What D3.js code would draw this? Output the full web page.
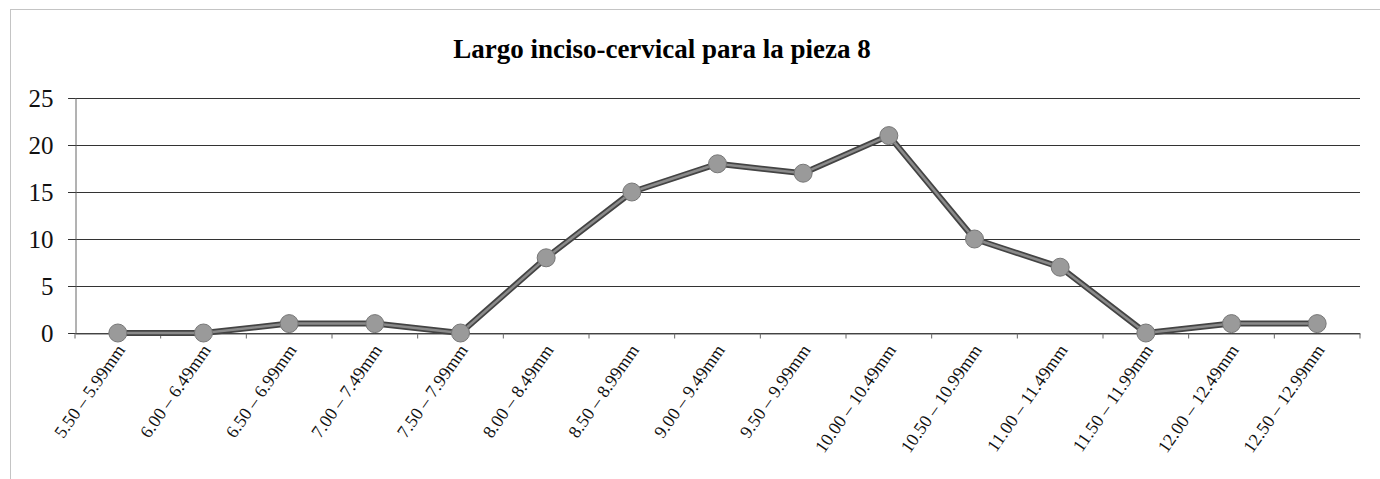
<!DOCTYPE html>
<html><head><meta charset="utf-8">
<script src="https://cdn.jsdelivr.net/npm/d3@7"></script>
<style>body{margin:0;background:#fff}svg{display:block}</style>
</head><body>
<script>
const categories = ["5.50 – 5.99mm","6.00 – 6.49mm","6.50 – 6.99mm","7.00 – 7.49mm","7.50 – 7.99mm","8.00 – 8.49mm","8.50 – 8.99mm","9.00 – 9.49mm","9.50 – 9.99mm","10.00 – 10.49mm","10.50 – 10.99mm","11.00 – 11.49mm","11.50 – 11.99mm","12.00 – 12.49mm","12.50 – 12.99mm"];
const values = [0,0,1,1,0,8,15,18,17,21,10,7,0,1,1];
const yTicks = [0,5,10,15,20,25];
const title = "Largo inciso-cervical para la pieza 8";

const W = 1380, H = 479;
const svg = d3.select("body").append("svg").attr("width", W).attr("height", H);
const serif = "'Liberation Serif','Times New Roman',serif";

// chart border (dotted)
svg.append("rect").attr("x",10.5).attr("y",9.5).attr("width",1400).attr("height",500)
  .attr("fill","none").attr("stroke","#888").attr("stroke-width",1).attr("stroke-dasharray","1,1");

const pL = 75, pR = 1360, pT = 98, pB = 333;
const x = d3.scaleBand().domain(categories).range([pL, pR]);
const y = d3.scaleLinear().domain([0,25]).range([pB, pT]);

svg.append("text").attr("x", 662).attr("y", 58).attr("text-anchor","middle")
  .attr("font-family", serif).attr("font-weight","bold").attr("font-size", 27).text(title);

// gridlines
svg.append("g").selectAll("line").data(yTicks).join("line")
  .attr("x1", pL-7).attr("x2", pR).attr("y1", d=>y(d)+0.5).attr("y2", d=>y(d)+0.5)
  .attr("stroke","#333").attr("stroke-width",1.2);

// y axis
const ya = svg.append("g").attr("transform",`translate(${pL+0.5},0)`)
  .call(d3.axisLeft(y).tickValues(yTicks).tickSize(7).tickPadding(15).tickFormat(d3.format("d")));
ya.select(".domain").attr("stroke","#666");
ya.selectAll(".tick line").attr("stroke","#333");
ya.selectAll("text").attr("font-family", serif).attr("font-size", 25).attr("fill","#111");

// x axis
const xa = svg.append("g").attr("transform",`translate(0,${pB+0.5})`)
  .call(d3.axisBottom(x).tickSize(0).tickFormat(""));
xa.select(".domain").attr("stroke","#555");
xa.selectAll(".boundary").data(d3.range(categories.length+1)).join("line")
  .attr("x1", i=>pL + i*x.step()).attr("x2", i=>pL + i*x.step())
  .attr("y1",0).attr("y2",5).attr("stroke","#666");

svg.append("g").selectAll("text").data(categories).join("text")
  .attr("transform", d=>`translate(${x(d)+x.bandwidth()/2+8},${pB+17}) rotate(-55)`)
  .attr("text-anchor","end").attr("font-family", serif).attr("font-size", 18).attr("fill","#111")
  .text(d=>d);

const cx = d=>x(d)+x.bandwidth()/2;
const line = d3.line().x((d,i)=>cx(categories[i])).y(d=>y(d));
svg.append("path").datum(values).attr("d", line).attr("fill","none")
  .attr("stroke","#444").attr("stroke-width",6).attr("stroke-linejoin","round");
svg.append("path").datum(values).attr("d", line).attr("fill","none")
  .attr("stroke","#8a8a8a").attr("stroke-width",2.5).attr("stroke-linejoin","round");

svg.append("g").selectAll("circle").data(values).join("circle")
  .attr("cx",(d,i)=>cx(categories[i])).attr("cy", d=>y(d)).attr("r", 9)
  .attr("fill","#9a9a9a").attr("stroke","#777").attr("stroke-width",1);
</script>
</body></html>
